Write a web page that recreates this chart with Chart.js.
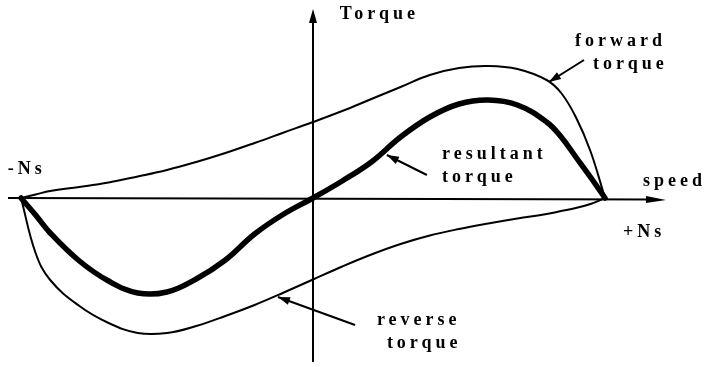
<!DOCTYPE html>
<html>
<head>
<meta charset="utf-8">
<script src="https://cdn.jsdelivr.net/npm/chart.js@4"></script>
<style>
  html, body { margin: 0; padding: 0; background: #fff; }
  #wrap { width: 711px; height: 367px; position: relative; }
</style>
</head>
<body>
<div id="wrap"><canvas id="torqueChart"></canvas></div>
<script>
// speed in units of Ns (0.1 steps, extra steps near the ends), torque in arbitrary units
const speed = [-1, -0.95, -0.9, -0.8, -0.7, -0.6, -0.5, -0.4, -0.3, -0.2, -0.1, 0, 0.1, 0.2, 0.3, 0.4, 0.5, 0.6, 0.7, 0.8, 0.85, 0.9, 0.95, 1];
const forwardTorque = [0, 0.035, 0.07, 0.11, 0.155, 0.215, 0.28, 0.36, 0.45, 0.55, 0.655, 0.76, 0.87, 0.99, 1.11, 1.23, 1.30, 1.32, 1.29, 1.18, 1.05, 0.81, 0.47, 0];
const reverseTorque = [0, -0.55, -0.82, -1.08, -1.25, -1.35, -1.35, -1.28, -1.18, -1.07, -0.945, -0.815, -0.685, -0.565, -0.46, -0.375, -0.31, -0.255, -0.205, -0.16, -0.13, -0.10, -0.06, 0];
const resultantTorque = [0, -0.17, -0.35, -0.63, -0.83, -0.95, -0.94, -0.81, -0.62, -0.36, -0.16, 0, 0.17, 0.36, 0.61, 0.81, 0.94, 0.98, 0.93, 0.76, 0.61, 0.41, 0.21, 0];

function toPoints(xs, ys) {
    return xs.map((x, i) => ({ x: x, y: ys[i] }));
}

// text labels and pointer arrows, in data units
const labels = [
    { text: 'Torque', x: 0.092, y: 1.84 },
    { text: 'forward', x: 0.897, y: 1.57 },
    { text: 'torque', x: 0.959, y: 1.34 },
    { text: 'resultant', x: 0.442, y: 0.44 },
    { text: 'torque', x: 0.442, y: 0.21 },
    { text: 'reverse', x: 0.219, y: -1.22 },
    { text: 'torque', x: 0.253, y: -1.45 },
    { text: '-Ns', x: -1.045, y: 0.29 },
    { text: 'speed', x: 1.130, y: 0.17 },
    { text: '+Ns', x: 1.062, y: -0.34 }
];
const pointers = [
    { from: [0.928, 1.38], to: [0.808, 1.16] },
    { from: [0.390, 0.23], to: [0.253, 0.43] },
    { from: [0.144, -1.27], to: [-0.120, -0.99] }
];

function arrowHead(ctx, x0, y0, x1, y1, len, half) {
    const a = Math.atan2(y1 - y0, x1 - x0);
    ctx.beginPath();
    ctx.moveTo(x1, y1);
    ctx.lineTo(x1 - len * Math.cos(a) + half * Math.sin(a), y1 - len * Math.sin(a) - half * Math.cos(a));
    ctx.lineTo(x1 - len * Math.cos(a) - half * Math.sin(a), y1 - len * Math.sin(a) + half * Math.cos(a));
    ctx.closePath();
    ctx.fill();
}

const axesPlugin = {
    id: 'axesPlugin',
    beforeDatasetsDraw(chart) {
        const { ctx, scales: { x, y } } = chart;
        const x0 = x.getPixelForValue(0), y0 = y.getPixelForValue(0);
        ctx.save();
        ctx.strokeStyle = '#000';
        ctx.fillStyle = '#000';
        ctx.lineWidth = 2;
        ctx.beginPath();
        ctx.moveTo(8, y0);
        ctx.lineTo(655, y0 + 1.5);
        ctx.stroke();
        arrowHead(ctx, 640, y0 + 1.5, 666, y0 + 2, 20, 3.5);
        ctx.beginPath();
        ctx.moveTo(x0, 362);
        ctx.lineTo(x0, 18);
        ctx.stroke();
        arrowHead(ctx, x0, 40, x0, 9, 14, 4);
        ctx.restore();
    },
    afterDatasetsDraw(chart) {
        const { ctx, scales: { x, y } } = chart;
        ctx.save();
        ctx.fillStyle = '#000';
        ctx.strokeStyle = '#000';
        ctx.font = 'bold 18px "Liberation Serif"';
        ctx.letterSpacing = '4px';
        ctx.textBaseline = 'middle';
        labels.forEach(l => {
            ctx.fillText(l.text, x.getPixelForValue(l.x), y.getPixelForValue(l.y));
        });
        ctx.lineWidth = 2;
        pointers.forEach(p => {
            const ax = x.getPixelForValue(p.from[0]), ay = y.getPixelForValue(p.from[1]);
            const bx = x.getPixelForValue(p.to[0]), by = y.getPixelForValue(p.to[1]);
            ctx.beginPath();
            ctx.moveTo(ax, ay);
            ctx.lineTo(bx, by);
            ctx.stroke();
            arrowHead(ctx, ax, ay, bx, by, 12, 4);
        });
        ctx.restore();
    }
};

new Chart(document.getElementById('torqueChart'), {
    type: 'line',
    data: {
        datasets: [
            { label: 'forward torque', data: toPoints(speed, forwardTorque), borderColor: '#000', borderWidth: 2 },
            { label: 'reverse torque', data: toPoints(speed, reverseTorque), borderColor: '#000', borderWidth: 2 },
            { label: 'resultant torque', data: toPoints(speed, resultantTorque), borderColor: '#000', borderWidth: 5.5 }
        ]
    },
    options: {
        responsive: true,
        maintainAspectRatio: false,
        animation: false,
        layout: { padding: 0 },
        elements: {
            point: { radius: 0 },
            line: { tension: 0.4, fill: false, borderCapStyle: 'round' }
        },
        plugins: { legend: { display: false }, tooltip: { enabled: false } },
        scales: {
            x: { type: 'linear', display: false, min: -1.0719, max: 1.363 },
            y: { type: 'linear', display: false, min: -1.69, max: 1.98 }
        }
    },
    plugins: [axesPlugin]
});
</script>
</body>
</html>
